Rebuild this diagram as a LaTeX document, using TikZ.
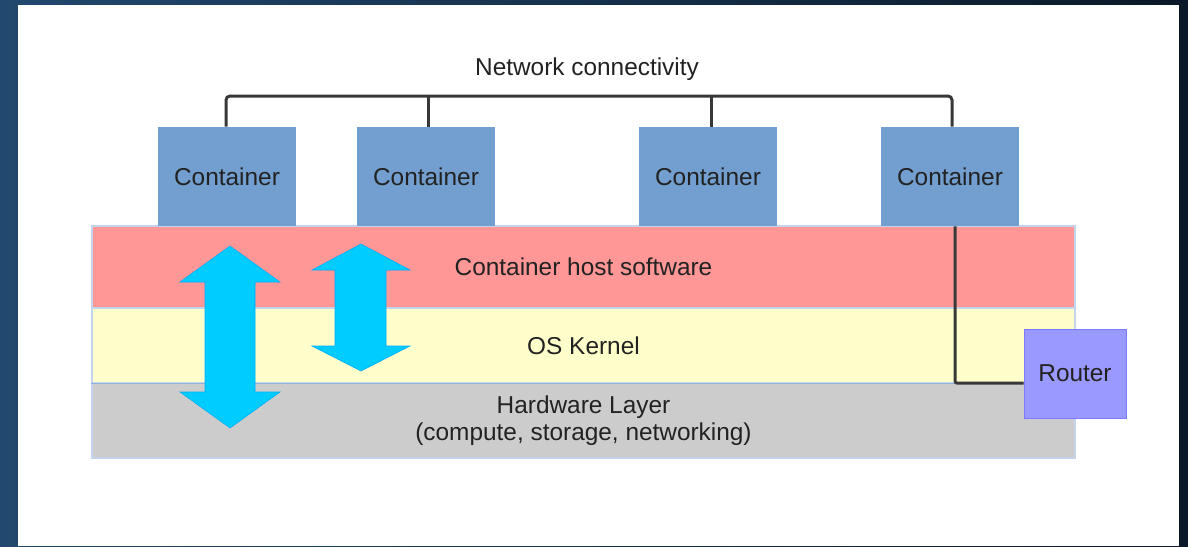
\documentclass[tikz,border=0pt]{standalone}
\usepackage{fontspec}
\setmainfont{Liberation Sans}
\usetikzlibrary{calc}
\definecolor{framedark}{HTML}{0A1828}
\definecolor{frameblue}{HTML}{21486E}
\definecolor{contblue}{HTML}{729FCF}
\definecolor{hostpink}{HTML}{FF9797}
\definecolor{kernyellow}{HTML}{FFFFCC}
\definecolor{hwgray}{HTML}{CCCCCC}
\definecolor{routerblue}{HTML}{9999FF}
\definecolor{arrowcyan}{HTML}{00CCFF}
\definecolor{edgeblue}{HTML}{C4D4EC}
\definecolor{inkgray}{HTML}{222222}
\tikzset{
  every node/.style={font=\fontsize{12.2}{13.5}\selectfont, text=inkgray},
  container/.style={fill=contblue, draw=none, minimum width=69pt, minimum height=49.5pt, inner sep=0pt},
  layer/.style={draw=edgeblue, line width=0.6pt, minimum width=491.5pt, inner sep=0pt, align=center},
  routerbox/.style={fill=routerblue, draw=routerblue!80!blue, line width=0.5pt, minimum width=51pt, minimum height=44.5pt, inner sep=0pt},
  wire/.style={draw=inkgray!90, line width=1.5pt},
  updown/.style={fill=arrowcyan, draw=arrowcyan!85!blue, line width=0.3pt},
}
\begin{document}
\begin{tikzpicture}[x=0.5pt, y=-0.5pt]
  \useasboundingbox (0,0) rectangle (1188,546);
  % frame and white slide area
  \shade[left color=frameblue, right color=framedark] (0,0) rectangle (1188,546);
  \fill[white] (18,5) rectangle (1179,546);

  % stacked layers
  \node[layer, fill=hostpink, minimum height=41pt] (host) at (583.5,267) {Container host software};
  \node[layer, fill=kernyellow, minimum height=37.5pt] (kernel) at (583.5,345.5) {OS Kernel};
  \node[layer, fill=hwgray, minimum height=37.5pt] (hw) at (583.5,420.5) {Hardware Layer\\(compute, storage, networking)};
  \draw[contblue!80, line width=0.6pt] (kernel.south west) -- (kernel.south east);

  % containers
  \node[container] (c1) at (227,176.5) {Container};
  \node[container] (c2) at (426,176.5) {Container};
  \node[container] (c3) at (708,176.5) {Container};
  \node[container] (c4) at (950,176.5) {Container};

  % router
  \node[routerbox] (router) at (1075,373.5) {Router};

  % network bus
  \node (netlabel) at (587,69) {Network connectivity};
  \coordinate (bus) at (587,96);
  \draw[wire, rounded corners=2pt] ([xshift=-0.5pt]c1.north) -- ([xshift=-0.5pt]c1.north |- bus)
    -- ([xshift=1pt]c4.north |- bus) -- ([xshift=1pt]c4.north);
  \draw[wire] ([xshift=1pt]c2.north) -- ([xshift=1pt]c2.north |- bus);
  \draw[wire] ([xshift=1.5pt]c3.north) -- ([xshift=1.5pt]c3.north |- bus);

  % uplink to the router
  \coordinate (rc) at (955,383);
  \draw[wire, rounded corners=1pt] (c4.south -| rc) -- (rc) -- (rc -| router.west);

  % double arrows between layers
  \draw[updown] (230,246) -- (280,282) -- (255,282) -- (255,392) -- (280,392) -- (230,428)
    -- (180,392) -- (205,392) -- (205,282) -- (180,282) -- cycle;
  \draw[updown] (361,244) -- (410,270) -- (386,270) -- (386,346) -- (410,346) -- (361,371)
    -- (312,346) -- (335,346) -- (335,270) -- (312,270) -- cycle;
\end{tikzpicture}
\end{document}
